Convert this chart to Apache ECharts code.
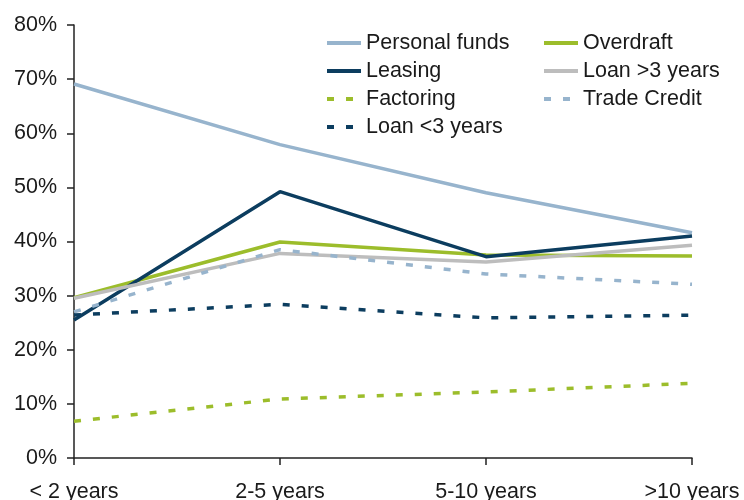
<!DOCTYPE html>
<html>
<head>
<meta charset="utf-8">
<script src="https://cdn.jsdelivr.net/npm/echarts@6/dist/echarts.min.js"></script>
<style>
  html, body { margin: 0; padding: 0; background: #fff; }
  #chart { width: 744px; height: 500px; }
</style>
</head>
<body>
<div id="chart"></div>
<script>
// categories (firm age)
const categories = ['< 2 years', '2-5 years', '5-10 years', '>10 years']
// share of firms using each source, %
const personalFunds = [69.1, 57.9, 49.0, 41.6]
const overdraft = [29.6, 39.9, 37.5, 37.3]
const leasing = [25.5, 49.2, 37.2, 41.0]
const loanOver3 = [29.5, 37.8, 36.2, 39.3]
const factoring = [6.8, 10.9, 12.2, 13.8]
const tradeCredit = [27.0, 38.5, 34.0, 32.1]
const loanUnder3 = [26.4, 28.4, 25.9, 26.4]
const yTicks = [0, 10, 20, 30, 40, 50, 60, 70, 80]

const chart = echarts.init(document.getElementById('chart'))

// helper for one line series
function line (name, data, color, dashed) {
  return {
    name: name,
    type: 'line',
    data: data,
    symbol: 'none',
    lineStyle: {
      color: color,
      width: 3.5,
      type: dashed ? [7, 12] : 'solid',
      cap: 'butt'
    },
    itemStyle: { color: color }
  }
}

const legendText = { fontFamily: 'Liberation Sans', fontSize: 21.5, lineHeight: 22, color: '#1a1a1a' }
const legendBase = {
  orient: 'vertical',
  top: 32,
  padding: 0,
  itemWidth: 34,
  itemHeight: 14,
  itemGap: 6,
  itemStyle: { opacity: 0 },
  lineStyle: { width: 4 },
  textStyle: legendText
}

chart.setOption({
  animation: false,
  textStyle: { fontFamily: 'Liberation Sans' },
  grid: { left: 74, right: 52, top: 25, bottom: 42, outerBoundsMode: 'none' },
  legend: [
    Object.assign({}, legendBase, {
      left: 325,
      data: ['Personal funds', 'Leasing', 'Factoring', 'Loan <3 years']
    }),
    Object.assign({}, legendBase, {
      left: 542,
      data: ['Overdraft', 'Loan >3 years', 'Trade Credit']
    })
  ],
  xAxis: {
    type: 'category',
    data: categories,
    boundaryGap: false,
    axisLine: { lineStyle: { color: '#222', width: 1.5 } },
    axisTick: { alignWithLabel: true, length: 7, lineStyle: { color: '#222', width: 1.5 } },
    axisLabel: { fontSize: 21.5, color: '#1a1a1a', margin: 23 }
  },
  yAxis: {
    type: 'value',
    min: yTicks[0],
    max: yTicks[yTicks.length - 1],
    interval: 10,
    axisLine: { show: true, lineStyle: { color: '#222', width: 1.5 } },
    axisTick: { show: true, length: 7, lineStyle: { color: '#222', width: 1.5 } },
    splitLine: { show: false },
    axisLabel: { fontSize: 21.5, color: '#1a1a1a', margin: 17, formatter: '{value}%' }
  },
  series: [
    line('Personal funds', personalFunds, '#97b4cd', false),
    line('Overdraft', overdraft, '#9cbd2b', false),
    line('Leasing', leasing, '#0c3d5f', false),
    line('Loan >3 years', loanOver3, '#bdbdbd', false),
    line('Factoring', factoring, '#9cbd2b', true),
    line('Trade Credit', tradeCredit, '#97b4cd', true),
    line('Loan <3 years', loanUnder3, '#0c3d5f', true)
  ]
})
</script>
</body>
</html>
